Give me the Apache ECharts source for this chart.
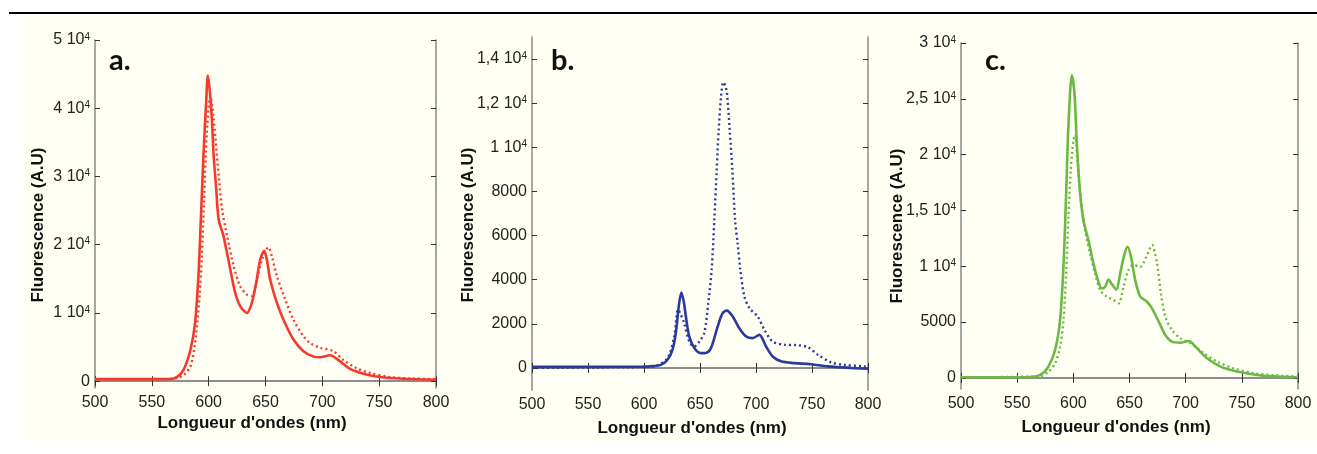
<!DOCTYPE html>
<html>
<head>
<meta charset="utf-8">
<script src="https://cdn.jsdelivr.net/npm/echarts@6/dist/echarts.min.js"></script>
<style>
  html, body { margin: 0; padding: 0; background: #fff; }
  #wrap { position: relative; width: 1317px; height: 454px; }
  #cream { position: absolute; left: 23px; top: 16px; width: 1294px; height: 426px; background: #fffff3; }
  #rule { position: absolute; left: 9px; top: 12px; width: 1308px; height: 2px; background: #000; }
  #chart { position: absolute; left: 0; top: 0; width: 1317px; height: 454px; }
</style>
</head>
<body>
<div id="wrap">
  <div id="cream"></div>
  <div id="rule"></div>
  <div id="chart"></div>
</div>
<script>
// x ticks (nm)
var xTicks = [500, 550, 600, 650, 700, 750, 800];

// y ticks per panel
var aTicks = [0, 10000, 20000, 30000, 40000, 50000];
var bTicks = [0, 2000, 4000, 6000, 8000, 10000, 12000, 14000];
var cTicks = [0, 5000, 10000, 15000, 20000, 25000, 30000];

// panel a (red) : [wavelength, intensity]
var aSolid = [[500,300],[550,300],[566,320],[572,600],[578,1700],[584,4600],[588,8500],[591,15400],[593,23200],[595.4,33000],[597.8,40900],[599.3,44800],[601.3,42000],[603,37900],[604.4,33000],[606.5,28500],[608.8,23700],[613,21300],[619,16400],[623.4,12900],[627.8,11000],[633.6,10000],[638,11500],[641.8,14400],[645.3,17800],[648.9,19100],[651.2,17800],[654.1,14900],[660,11500],[665.8,9000],[674.6,6100],[683.4,4400],[692.2,3600],[698,3500],[706.8,3800],[715.6,2900],[724.4,1800],[736.1,1100],[750.8,600],[771.3,350],[800,200]];
var aDotted = [[500,300],[560,300],[570,400],[578,900],[584,2200],[588,5600],[592,12500],[594,18300],[596,26700],[598.4,36500],[601.5,41800],[604,39000],[606,35500],[608.8,30100],[611.8,25200],[616.2,21300],[622,16900],[627.8,13900],[633.6,12700],[638,12500],[641.8,14400],[646.8,17800],[652.6,19600],[655.6,18300],[660,15400],[667.3,12000],[674.6,9000],[683.4,6600],[689.3,5600],[698,4900],[709.7,4400],[718.5,3100],[730.2,1900],[742,1200],[759.6,600],[777.2,400],[800,300]];

// panel b (blue)
var bSolid = [[500,50],[550,50],[600,60],[605,70],[615,140],[621,370],[625.4,820],[628.4,1580],[631.4,2940],[633.4,3420],[635.5,3000],[637.4,2330],[640.4,1430],[644.9,900],[650.8,670],[655.3,680],[659.8,900],[665.8,1880],[670.2,2480],[674,2600],[679.2,2330],[685.1,1800],[691.1,1430],[697,1350],[703,1500],[709,970],[714.9,520],[722.4,300],[734.3,220],[749.1,170],[764,70],[784.9,0],[800,-30]];
var bDotted = [[500,0],[600,40],[610,80],[621,450],[627,1430],[630.4,2650],[633,2400],[635.9,2030],[640.4,1200],[644.9,970],[649.4,1200],[653.8,1580],[657.4,2940],[660.4,4450],[662.8,6710],[664.9,8970],[666.7,10800],[668.8,12300],[670.8,12950],[672.5,12800],[674.1,12450],[676.5,10800],[678.9,8970],[681.3,6710],[683.6,5650],[686,4450],[689.6,3240],[694.1,2710],[701.5,2330],[707.5,1730],[714.9,1200],[725.4,1050],[737.3,1030],[746.3,940],[755.2,600],[767.1,250],[779,140],[797,70],[800,60]];

// panel c (green)
var cSolid = [[500,50],[560,60],[570.4,260],[577.8,1000],[583.8,2500],[588.2,5170],[591.2,9950],[593.6,16500],[595.6,22500],[598.7,27100],[601,25500],[603.1,21000],[606.1,16500],[609,14100],[613.5,12300],[617.9,10250],[622.4,8600],[625.4,8000],[628.3,8160],[631.3,8800],[634.3,8400],[638.2,7900],[641.7,9350],[645.3,11000],[648.3,11740],[651.3,10850],[655.1,8750],[659.6,7270],[665.6,6820],[670,6220],[676,5030],[681.9,3840],[687.8,3240],[695.3,3150],[702.7,3300],[710.2,2640],[719.1,1750],[731,1000],[745.8,560],[763.6,260],[781.4,110],[800,50]];
var cDotted = [[500,50],[570,150],[577.8,560],[583.8,1300],[588.2,2800],[591.2,5170],[593.6,9350],[595.6,14400],[597.7,18600],[600.1,21300],[601.8,21800],[603.6,19500],[606.1,16500],[610.5,13200],[615,11100],[619.4,9350],[623.9,7860],[629.8,7270],[635.8,6970],[640.2,6670],[644.7,8160],[649.1,9650],[653.6,10100],[659.6,9950],[665,10850],[670,11900],[674.5,10250],[678,7570],[681.9,5480],[687.8,4280],[695.3,3540],[704.2,3090],[716.1,2200],[728,1450],[742.8,850],[760.6,410],[778.5,230],[800,110]];

var FONT = "'Liberation Sans', Arial, sans-serif";

function sci(v) {
  if (v >= 10000) {
    return String(v / 10000).replace('.', ',') + ' 10{sup|4}';
  }
  return String(v);
}

var panels = [
  { grid: { left: 95, top: 40, width: 341, height: 348 }, ymin: -1000, ymax: 50000, ticks: aTicks,
    color: '#f43a2e', solid: aSolid, dotted: aDotted, letter: 'a.', lx: 109, nameY: [38, 225], nameX: [252, 423] },
  { grid: { left: 532, top: 37, width: 336, height: 353 }, ymin: -1000, ymax: 15000, ticks: bTicks,
    color: '#2b3a9c', solid: bSolid, dotted: bDotted, letter: 'b.', lx: 551, nameY: [468, 225], nameX: [692, 428] },
  { grid: { left: 961, top: 43, width: 337, height: 346 }, ymin: -1000, ymax: 30000, ticks: cTicks,
    color: '#6cb845', solid: cSolid, dotted: cDotted, letter: 'c.', lx: 985, nameY: [897, 226], nameX: [1116, 427] }
];

var grids = [], xAxes = [], yAxes = [], series = [], graphics = [];

panels.forEach(function(p, i) {
  grids.push(p.grid);
  var line = { lineStyle: { color: '#888', width: 1.5 } };
  var tick = { inside: true, length: 5, lineStyle: { color: '#333', width: 1 } };
  xAxes.push({
    gridIndex: i, type: 'value', position: 'bottom', min: 500, max: 800, interval: 50,
    axisLine: line, axisTick: tick, splitLine: { show: false },
    axisLabel: { fontSize: 16, color: '#222', fontFamily: FONT, margin: 7, showMinLabel: true, showMaxLabel: true }
  });
  xAxes.push({
    gridIndex: i, type: 'value', position: 'top', min: 500, max: 800, interval: 50,
    axisLine: line, axisTick: tick, splitLine: { show: false }, axisLabel: { show: false }
  });
  yAxes.push({
    gridIndex: i, type: 'value', position: 'left', min: p.ymin, max: p.ymax,
    axisLine: line, axisTick: Object.assign({ customValues: p.ticks }, tick), splitLine: { show: false },
    axisLabel: {
      customValues: p.ticks, formatter: sci, fontSize: 16, color: '#222', fontFamily: FONT, margin: 5,
      rich: { sup: { fontSize: 10, color: '#222', fontFamily: FONT, verticalAlign: 'top', lineHeight: 10 } }
    }
  });
  yAxes.push({
    gridIndex: i, type: 'value', position: 'right', min: p.ymin, max: p.ymax,
    axisLine: line, axisTick: Object.assign({ customValues: p.ticks }, tick), splitLine: { show: false },
    axisLabel: { show: false }
  });

  series.push({
    type: 'line', xAxisIndex: 2 * i, yAxisIndex: 2 * i, data: p.dotted, showSymbol: false,
    smooth: 0.3,
    lineStyle: { color: p.color, width: 2.4, type: [2, 3] }
  });
  series.push({
    type: 'line', xAxisIndex: 2 * i, yAxisIndex: 2 * i, data: p.solid, showSymbol: false,
    smooth: 0.3,
    lineStyle: { color: p.color, width: 2.6 }
  });

  graphics.push({
    type: 'text', left: p.lx, top: 46,
    style: { text: p.letter, font: "bold 29px Lato, 'Noto Sans', sans-serif", fill: '#111' }
  });
  graphics.push({
    type: 'text', x: p.nameY[0], y: p.nameY[1], rotation: Math.PI / 2,
    style: { text: 'Fluorescence (A.U)', font: 'bold 17px ' + FONT, fill: '#111', align: 'center', verticalAlign: 'middle' }
  });
  graphics.push({
    type: 'text', x: p.nameX[0], y: p.nameX[1],
    style: { text: "Longueur d'ondes (nm)", font: 'bold 17px ' + FONT, fill: '#111', align: 'center', verticalAlign: 'middle' }
  });
});

var chart = echarts.init(document.getElementById('chart'));
chart.setOption({
  backgroundColor: 'transparent',
  animation: false,
  grid: grids,
  xAxis: xAxes,
  yAxis: yAxes,
  series: series,
  graphic: graphics
});
</script>
</body>
</html>
